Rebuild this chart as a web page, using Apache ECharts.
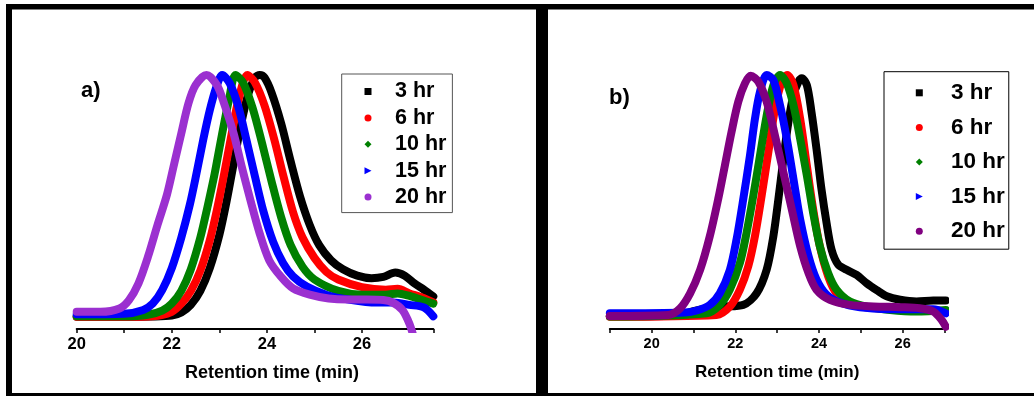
<!DOCTYPE html>
<html><head><meta charset="utf-8">
<script src="https://cdn.jsdelivr.net/npm/echarts@6/dist/echarts.min.js"></script>
<style>html,body{margin:0;padding:0;background:#fff}#c{width:1034px;height:396px}</style>
</head><body><div id="c"></div>
<script>
// ---------- data (retention time [min], normalized intensity) ----------
const seriesLabels = ['3 hr', '6 hr', '10 hr', '15 hr', '20 hr'];
const xTicksA = [20, 22, 24, 26];
const xTicksB = [20, 22, 24, 26];
const axisTitle = 'Retention time (min)';

const a3 = [[20,0.048],[21,0.048],[21.6,0.049],[22,0.053],[22.2,0.065],[22.4,0.095],[22.6,0.15],[22.8,0.24],[23,0.37],[23.15,0.5],[23.3,0.65],[23.45,0.8],[23.6,0.92],[23.75,0.99],[23.85,1.0],[23.95,0.99],[24.1,0.93],[24.3,0.81],[24.5,0.66],[24.7,0.52],[24.9,0.41],[25.1,0.33],[25.35,0.27],[25.6,0.235],[25.9,0.21],[26.2,0.2],[26.45,0.205],[26.7,0.222],[26.9,0.21],[27.1,0.18],[27.3,0.155],[27.5,0.128]];
const a6 = [[20,0.048],[21,0.048],[21.6,0.05],[22,0.068],[22.2,0.1],[22.4,0.15],[22.6,0.23],[22.8,0.35],[22.95,0.47],[23.1,0.61],[23.25,0.76],[23.4,0.9],[23.59,1.0],[23.75,0.97],[23.95,0.88],[24.15,0.75],[24.35,0.6],[24.55,0.46],[24.75,0.36],[25,0.28],[25.25,0.225],[25.5,0.195],[26,0.165],[26.5,0.155],[26.75,0.158],[27,0.14],[27.25,0.125],[27.5,0.105]];
const a10 = [[20,0.05],[21,0.05],[21.5,0.056],[21.8,0.072],[22,0.1],[22.2,0.15],[22.4,0.235],[22.6,0.36],[22.75,0.48],[22.9,0.61],[23.05,0.76],[23.2,0.9],[23.34,1.0],[23.5,0.97],[23.7,0.87],[23.9,0.73],[24.1,0.58],[24.3,0.44],[24.5,0.33],[24.75,0.245],[25,0.195],[25.5,0.15],[26,0.135],[26.5,0.135],[26.75,0.14],[27,0.13],[27.25,0.115],[27.5,0.1]];
const a15 = [[20,0.058],[21,0.06],[21.4,0.075],[21.6,0.1],[21.8,0.154],[22,0.24],[22.2,0.36],[22.38,0.49],[22.52,0.613],[22.66,0.744],[22.8,0.862],[22.94,0.954],[23.06,1.0],[23.22,0.967],[23.4,0.875],[23.57,0.744],[23.75,0.6],[23.92,0.468],[24.13,0.344],[24.34,0.26],[24.55,0.207],[24.84,0.167],[25.26,0.134],[25.75,0.115],[26.3,0.104],[26.66,0.104],[27,0.095],[27.3,0.085],[27.5,0.05]];
const a20 = [[20,0.068],[20.5,0.068],[20.9,0.081],[21.1,0.114],[21.3,0.18],[21.5,0.285],[21.7,0.41],[21.9,0.53],[22.05,0.65],[22.2,0.77],[22.35,0.888],[22.5,0.96],[22.73,1.0],[22.95,0.96],[23.1,0.888],[23.3,0.77],[23.47,0.64],[23.65,0.51],[23.85,0.375],[24.05,0.27],[24.3,0.205],[24.55,0.16],[24.9,0.135],[25.3,0.12],[25.7,0.116],[26.1,0.116],[26.45,0.114],[26.65,0.104],[26.85,0.075],[27,0.02],[27.1,-0.04]];

const b3 = [[19,0.05],[20.6,0.052],[21,0.07],[21.3,0.08],[21.7,0.088],[22.19,0.095],[22.51,0.141],[22.75,0.234],[22.91,0.366],[23.03,0.512],[23.15,0.67],[23.27,0.815],[23.39,0.921],[23.51,0.974],[23.59,0.987],[23.71,0.96],[23.82,0.855],[23.94,0.71],[24.06,0.55],[24.18,0.419],[24.3,0.313],[24.46,0.253],[24.66,0.233],[24.9,0.213],[25.14,0.18],[25.38,0.153],[25.62,0.129],[25.94,0.115],[26.33,0.108],[26.73,0.112],[27.03,0.112]];
const b6 = [[19,0.048],[21.55,0.055],[21.87,0.088],[22.11,0.155],[22.31,0.247],[22.47,0.366],[22.63,0.525],[22.79,0.696],[22.95,0.868],[23.11,0.974],[23.24,1.0],[23.39,0.96],[23.55,0.828],[23.71,0.643],[23.86,0.472],[24.02,0.326],[24.22,0.207],[24.42,0.141],[24.82,0.095],[25.5,0.08],[26.3,0.075],[27.03,0.07]];
const b10 = [[19,0.049],[21.31,0.062],[21.63,0.095],[21.87,0.155],[22.11,0.26],[22.27,0.38],[22.43,0.525],[22.59,0.683],[22.75,0.841],[22.91,0.96],[23.07,1.0],[23.23,0.967],[23.39,0.881],[23.55,0.749],[23.71,0.604],[23.86,0.458],[24.02,0.326],[24.22,0.22],[24.42,0.155],[24.74,0.108],[25.14,0.088],[25.7,0.075],[26.33,0.069],[27.03,0.075]];
const b15 = [[19,0.062],[20.8,0.065],[21.08,0.073],[21.39,0.095],[21.63,0.141],[21.87,0.233],[22.03,0.353],[22.19,0.511],[22.35,0.683],[22.47,0.828],[22.59,0.934],[22.75,1.0],[22.91,0.98],[23.07,0.88],[23.23,0.749],[23.39,0.59],[23.55,0.432],[23.75,0.287],[23.94,0.195],[24.18,0.135],[24.5,0.104],[24.98,0.085],[25.62,0.078],[26.33,0.078],[26.73,0.078],[27.03,0.062]];
const b20 = [[19,0.051],[20.4,0.055],[20.68,0.081],[20.92,0.14],[21.16,0.233],[21.39,0.365],[21.59,0.511],[21.75,0.643],[21.91,0.776],[22.07,0.894],[22.23,0.967],[22.37,0.997],[22.55,0.974],[22.75,0.894],[22.95,0.76],[23.15,0.617],[23.35,0.471],[23.55,0.326],[23.75,0.22],[23.94,0.155],[24.26,0.115],[24.74,0.095],[25.3,0.089],[25.94,0.086],[26.41,0.082],[26.73,0.069],[26.93,0.036],[27.03,0.009]];

// ---------- styling ----------
const FONT = '"Liberation Sans", Arial, Helvetica, sans-serif';
const colorsA = ['#000000', '#ff0000', '#008000', '#0000ff', '#9b30d0'];
const colorsB = ['#000000', '#ff0000', '#008000', '#0000ff', '#800080'];
const icons = ['rect', 'circle', 'diamond', 'path://M0,0L10,5L0,10Z', 'circle'];
const dataA = [a3, a6, a10, a15, a20];
const dataB = [b3, b6, b10, b15, b20];

function mkSeries(panel, datas, colors) {
  return datas.map((d, i) => ({
    name: seriesLabels[i] + ' (' + panel + ')',
    type: 'line',
    xAxisIndex: panel === 'a' ? 0 : 1,
    yAxisIndex: panel === 'a' ? 0 : 1,
    data: d,
    smooth: 0.3,
    symbol: 'none',
    lineStyle: { color: colors[i], width: 8, cap: 'round', join: 'round' },
    itemStyle: { color: colors[i] },
    emphasis: { disabled: true },
    z: 2 + i
  }));
}
function mkXAxis(grid, min, max, ticks, labelSize, nameSize, namePad) {
  return {
    type: 'value', gridIndex: grid, min: min, max: max, interval: 1,
    axisLine: { show: true, onZero: false, lineStyle: { color: '#000', width: 2 } },
    axisTick: { show: true, length: 4, inside: false, lineStyle: { color: '#000', width: 1.5 } },
    splitLine: { show: false },
    axisLabel: {
      color: '#000', fontFamily: FONT, fontWeight: 'bold', fontSize: labelSize, margin: 7,
      formatter: v => ticks.indexOf(v) >= 0 ? String(v) : ''
    },
    name: axisTitle, nameLocation: 'middle', nameGap: 35,
    nameTextStyle: { color: '#000', fontFamily: FONT, fontWeight: 'bold', fontSize: nameSize, padding: namePad }
  };
}
function mkYAxis(grid) {
  return { type: 'value', gridIndex: grid, min: 0, max: 1.1, show: false };
}
function mkLegend(panel, colors, box) {
  return {
    orient: 'vertical', left: box.left, top: box.top, padding: box.padding,
    itemGap: box.gap, itemWidth: 7, itemHeight: 7,
    borderColor: box.border, borderWidth: 1, backgroundColor: '#fff',
    selectedMode: false,
    formatter: n => n.replace(/ \([ab]\)$/, ''),
    textStyle: { color: '#000', fontFamily: FONT, fontWeight: 'bold', fontSize: box.font, lineHeight: box.font, padding: [0, 0, 0, box.textPad] },
    data: seriesLabels.map((s, i) => ({ name: s + ' (' + panel + ')', icon: icons[i], itemStyle: { color: colors[i] } }))
  };
}

const chart = echarts.init(document.getElementById('c'), null, { renderer: 'canvas' });
chart.setOption({
  animation: false,
  backgroundColor: '#fff',
  grid: [
    { left: 76.7, top: 49.6, width: 356.6, height: 279.4 },
    { left: 609.8, top: 49.6, width: 334.7, height: 279.4 }
  ],
  xAxis: [
    mkXAxis(0, 20, 27.5, xTicksA, 16.5, 18, [0, 0, 0, 34]),
    mkXAxis(1, 19, 27, xTicksB, 14.5, 17, 0)
  ],
  yAxis: [mkYAxis(0), mkYAxis(1)],
  legend: [
    mkLegend('a', colorsA, { left: 341.7, top: 74, padding: [6.5, 6, 4.5, 22.8], gap: 4.4, font: 21.5, textPad: 18.5, border: '#555' }),
    mkLegend('b', colorsB, { left: 884, top: 71.7, padding: [9.6, 4, 6.5, 31.8], gap: 11.6, font: 22.5, textPad: 23.2, border: '#000' })
  ],
  series: mkSeries('a', dataA, colorsA).concat(mkSeries('b', dataB, colorsB)),
  graphic: [
    { type: 'rect', shape: { x: 6, y: 4, width: 1028, height: 5.5 }, style: { fill: '#000' }, silent: true },
    { type: 'rect', shape: { x: 6, y: 4, width: 6, height: 392 }, style: { fill: '#000' }, silent: true },
    { type: 'rect', shape: { x: 536, y: 4, width: 12, height: 392 }, style: { fill: '#000' }, silent: true },
    { type: 'rect', shape: { x: 6, y: 393, width: 1028, height: 3 }, style: { fill: '#000' }, silent: true },
    { type: 'text', left: 81, top: 80, style: { text: 'a)', fill: '#000', font: 'bold 22px ' + FONT }, silent: true },
    { type: 'text', left: 609, top: 87, style: { text: 'b)', fill: '#000', font: 'bold 22px ' + FONT }, silent: true }
  ]
});
</script></body></html>
